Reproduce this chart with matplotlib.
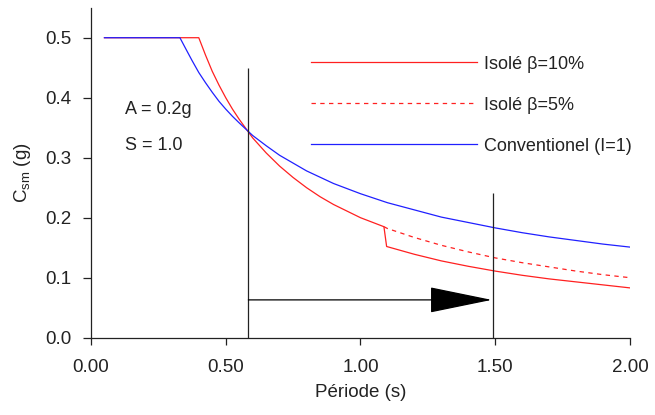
import matplotlib
matplotlib.use("Agg")
import matplotlib.pyplot as plt

plt.rcParams['font.family'] = ['Liberation Sans', 'DejaVu Sans']
plt.rcParams['mathtext.default'] = 'regular'

# Conventionnel (I=1)
conv_T = [0.05, 0.33, 0.35, 0.375, 0.40, 0.425, 0.45, 0.475, 0.50, 0.525, 0.55, 0.60, 0.65,
          0.70, 0.75, 0.80, 0.90, 1.00, 1.10, 1.20, 1.30, 1.40, 1.50, 1.60, 1.70, 1.80,
          1.90, 2.00]
conv_C = [0.500, 0.500, 0.483, 0.462, 0.442, 0.425, 0.409, 0.394, 0.381, 0.369, 0.358, 0.337,
          0.320, 0.304, 0.291, 0.278, 0.257, 0.240, 0.225, 0.213, 0.201, 0.192, 0.183, 0.175,
          0.168, 0.162, 0.156, 0.151]

# Isolé beta=10%
iso10_T = [0.05, 0.40, 0.425, 0.45, 0.475, 0.50, 0.525, 0.55, 0.60, 0.65, 0.70, 0.75, 0.80,
           0.85, 0.90, 0.95, 1.00, 1.087, 1.097, 1.20, 1.30, 1.40, 1.50, 1.60, 1.70, 1.80,
           1.90, 2.00]
iso10_C = [0.500, 0.500, 0.471, 0.444, 0.421, 0.400, 0.381, 0.364, 0.333, 0.308, 0.286, 0.267,
           0.250, 0.235, 0.222, 0.211, 0.200, 0.185, 0.152, 0.139, 0.128, 0.119, 0.111, 0.104,
           0.098, 0.093, 0.088, 0.083]

# Isolé beta=5% (branch after the break)
iso5_T = [1.087, 1.10, 1.20, 1.30, 1.40, 1.50, 1.60, 1.70, 1.80, 1.90, 2.00]
iso5_C = [0.185, 0.182, 0.167, 0.154, 0.143, 0.133, 0.125, 0.118, 0.111, 0.105, 0.100]

labels = ['Isolé β=10%', 'Isolé β=5%', 'Conventionel (I=1)']
x_ticks = [0.0, 0.5, 1.0, 1.5, 2.0]
x_ticklabels = ['0.00', '0.50', '1.00', '1.50', '2.00']
y_ticks = [0.0, 0.1, 0.2, 0.3, 0.4, 0.5]
y_ticklabels = ['0.0', '0.1', '0.2', '0.3', '0.4', '0.5']

T_start, T_end = 0.584, 1.493
arrow_y = 0.063
vline_tops = [0.45, 0.242]

fig = plt.figure(figsize=(6.55, 4.15), dpi=100)
ax = fig.add_axes([0.1389, 0.1863, 0.9618 - 0.1389, 0.9814 - 0.1863])

l10, = ax.plot(iso10_T, iso10_C, color='#ff2020', lw=0.9)
l5, = ax.plot(iso5_T, iso5_C, color='#ff2020', lw=0.9, dashes=(3.5, 3.5))
lc, = ax.plot(conv_T, conv_C, color='#2020ff', lw=0.9)

ax.vlines([T_start, T_end], [0, 0], vline_tops, color='#222222', lw=0.9)
ax.annotate('', xy=(1.487, arrow_y), xytext=(T_start, arrow_y),
            arrowprops=dict(arrowstyle='-|>,head_length=2.05,head_width=0.42',
                            mutation_scale=20, color='black', lw=0.9,
                            shrinkA=0, shrinkB=0))

ax.text(0.126, 0.38, 'A = 0.2g', fontsize=13, va='center', ha='left', color='#222222')
ax.text(0.126, 0.32, 'S = 1.0', fontsize=13, va='center', ha='left', color='#222222')

leg = ax.legend([l10, l5, lc], labels, loc='upper left', bbox_to_anchor=(0.395, 0.877),
                frameon=False, fontsize=13, handlelength=9.2, handletextpad=0.35,
                labelspacing=1.33, borderaxespad=0.0)
for t in leg.get_texts():
    t.set_color('#222222')

ax.set_xlim(0, 2.0)
ax.set_ylim(0, 0.55)
ax.set_xticks(x_ticks)
ax.set_xticklabels(x_ticklabels)
ax.set_yticks(y_ticks)
ax.set_yticklabels(y_ticklabels)
ax.tick_params(axis='both', direction='out', labelsize=13.5, labelcolor='#222222',
               color='#222222', width=0.9)
ax.tick_params(axis='y', length=6, pad=8)
ax.tick_params(axis='x', length=5, pad=10)
for s in ['top', 'right']:
    ax.spines[s].set_visible(False)
for s in ['left', 'bottom']:
    ax.spines[s].set_color('#222222')
    ax.spines[s].set_linewidth(0.9)

ax.set_xlabel('Période (s)', fontsize=13.5, color='#222222', labelpad=6)
ax.set_ylabel('C$_{sm}$ (g)', fontsize=13.5, color='#222222', labelpad=9)

fig.savefig('out.png', dpi=100)
